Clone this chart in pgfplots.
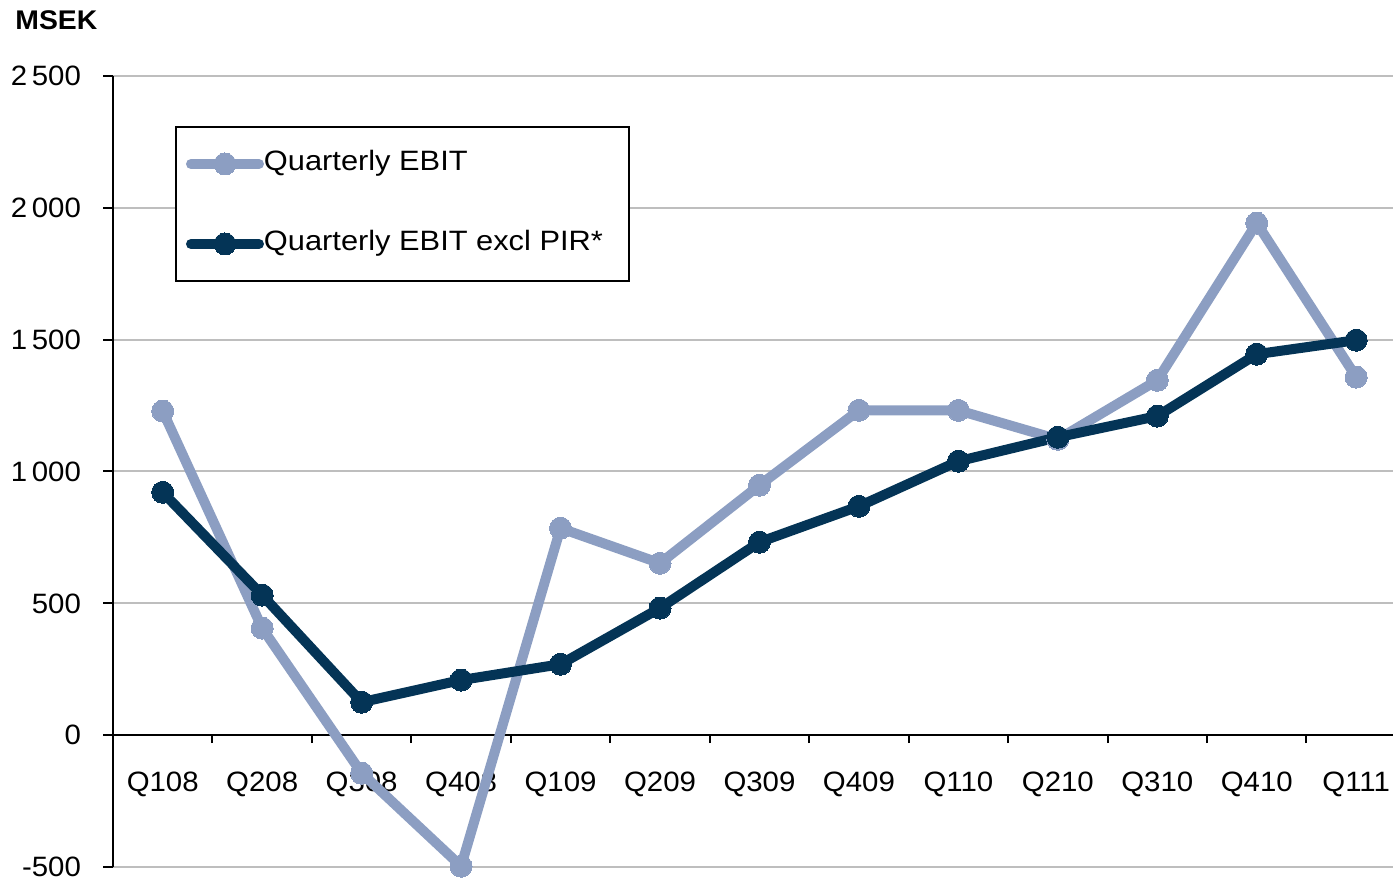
\documentclass[border=0pt]{standalone}
\usepackage{fontspec}
\setmainfont[FakeStretch=1.05]{Liberation Sans}
\newfontfamily\widefont[FakeStretch=1.1]{Liberation Sans}
\usepackage{pgfplots}
\pgfplotsset{compat=1.18}
\definecolor{lightser}{RGB}{140,158,194}
\definecolor{darkser}{RGB}{4,52,86}
\definecolor{gridc}{RGB}{190,190,190}
\begin{document}
\begin{tikzpicture}
\begin{axis}[
  name=ax,
  scale only axis,
  width=640pt, height=395.5pt,
  xmin=-0.5, xmax=12.37,
  ymin=-500, ymax=2500,
  axis x line*=middle,
  axis y line*=left,
  axis line style={line width=1pt, black},
  ytick={-500,0,500,1000,1500,2000,2500},
  ymajorgrids,
  major grid style={gridc, line width=1pt},
  xtick={0,...,12},
  xticklabels={Q108,Q208,Q308,Q408,Q109,Q209,Q309,Q409,Q110,Q210,Q310,Q410,Q111},
  minor xtick={-0.5,0.5,...,11.5},
  every major x tick/.style={draw=none},
  tick align=outside,
  major tick length=5pt,
  minor tick length=4pt,
  tick style={black, line width=1pt},
  /pgf/number format/assume math mode=true,
  /pgf/number format/1000 sep={\,},
  ticklabel style={font=\fontsize{14}{16}\selectfont},
  xticklabel style={anchor=north, yshift=-10pt},
  yticklabel style={xshift=-7.5pt, inner ysep=0pt, text depth=0pt},
  clip=false,
  legend style={at={(rel axis cs:0,1)}, anchor=north west, xshift=31pt, yshift=-25pt,
    draw=black, line width=1pt, inner xsep=5pt, inner ysep=12pt, row sep=27pt,
    font=\widefont\fontsize{14}{16}\selectfont,
    nodes={inner xsep=0pt, inner ysep=0pt, text height=10pt, text depth=3pt}},
  legend cell align=left,
  legend image code/.code={
    \draw[mark repeat=2,mark phase=2,line cap=round,#1] plot coordinates {(0pt,0pt) (17pt,0pt) (34pt,0pt)};
  },
]
\addplot[lightser, line width=5pt, line join=round, mark=*, mark size=5.5pt, mark options={solid, fill=lightser, draw=lightser, line width=0pt}]
coordinates {(0,1229) (1,406) (2,-144) (3,-497) (4,785) (5,652) (6,948) (7,1232) (8,1232) (9,1122) (10,1346) (11,1942) (12,1358)};
\addlegendentry{Quarterly EBIT}
\addplot[darkser, line width=5pt, line join=round, mark=*, mark size=5.5pt, mark options={solid, fill=darkser, draw=darkser, line width=0pt}]
coordinates {(0,921) (1,531) (2,125) (3,209) (4,269) (5,482) (6,732) (7,868) (8,1039) (9,1130) (10,1210) (11,1445) (12,1498)};
\addlegendentry{Quarterly EBIT excl PIR*\rule{8pt}{0pt}}
\end{axis}
\node[anchor=west, font=\fontsize{13.5}{16}\selectfont\bfseries, inner sep=0pt] at ([xshift=-49pt,yshift=28pt]ax.north west) {MSEK};
\pgfresetboundingbox
\path[use as bounding box] ([xshift=-56.5pt,yshift=-6pt]ax.south west) rectangle ([yshift=38pt]ax.north east);
\end{tikzpicture}
\end{document}
